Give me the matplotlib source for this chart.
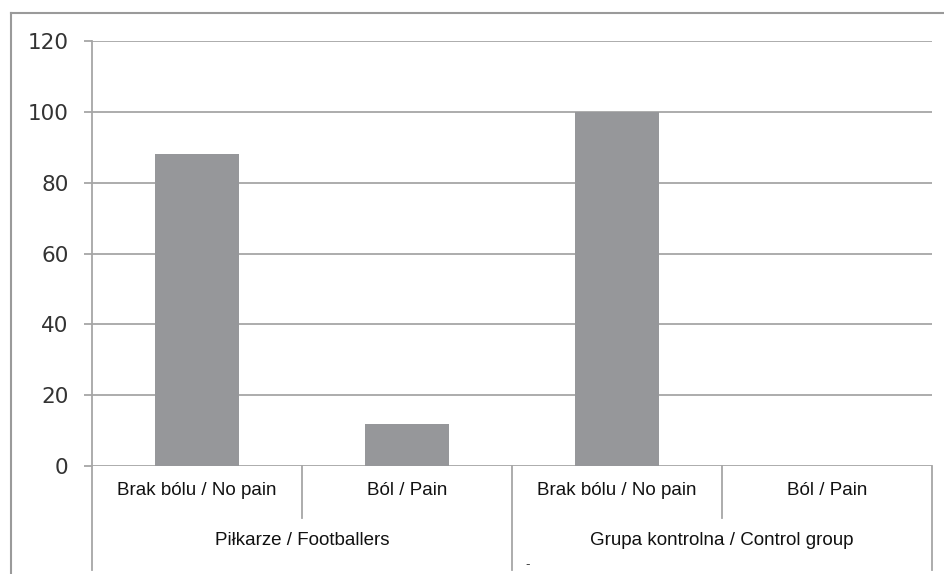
import matplotlib.pyplot as plt
from matplotlib.lines import Line2D

# dane
kategorie = ['Brak bólu / No pain', 'Ból / Pain', 'Brak bólu / No pain', 'Ból / Pain']
grupy = ['Piłkarze / Footballers', 'Grupa kontrolna / Control group']
wartosci = [88, 12, 100, 0]
y_ticks = [0, 20, 40, 60, 80, 100, 120]

W, H = 945, 574
fig = plt.figure(figsize=(W / 100, H / 100), dpi=100)
ax = fig.add_axes([92 / W, (H - 466) / H, 840 / W, 425 / H])

szary = '#a6a6a6'
ax.bar(range(len(wartosci)), wartosci, width=0.4, color='#96979a', zorder=3)
ax.set_xlim(-0.5, len(wartosci) - 0.5)
ax.set_ylim(0, 120)
ax.set_yticks(y_ticks)
ax.set_yticklabels([str(t) for t in y_ticks], family='DejaVu Sans', fontsize=15.5)
ax.yaxis.grid(True, color=szary, linewidth=1.3, zorder=0)
ax.tick_params(axis='y', length=6, width=1.3, color=szary, pad=11,
               labelcolor='#333333')
ax.tick_params(axis='x', length=0, labelbottom=False)
for s in ['top', 'right', 'bottom']:
    ax.spines[s].set_visible(False)
ax.spines['left'].set_color(szary)
ax.spines['left'].set_linewidth(1.3)

# osie kategorii (dwa poziomy)
tr = ax.get_xaxis_transform()
lw = 1.3
for x in [-0.5, 1.5, 3.5]:
    ax.add_line(Line2D([x, x], [0, -0.245], transform=tr, color=szary, lw=lw, clip_on=False))
for x in [0.5, 2.5]:
    ax.add_line(Line2D([x, x], [0, -0.122], transform=tr, color=szary, lw=lw, clip_on=False))

for i, k in enumerate(kategorie):
    ax.text(i, -0.057, k, transform=tr, ha='center', va='center',
            fontsize=13.5, family='Liberation Sans', color='#111111')
for j, g in enumerate(grupy):
    ax.text(2 * j + 0.5, -0.175, g, transform=tr, ha='center', va='center',
            fontsize=13.5, family='Liberation Sans', color='#111111')
ax.text(1.575, -0.233, '-', transform=tr, ha='center', va='center',
        fontsize=9, color='#444444')

# ramka wykresu
ramka = '#9a9a9a'
fig.add_artist(Line2D([11 / W, 11 / W], [0, 1 - 13 / H], color=ramka, lw=1.5))
fig.add_artist(Line2D([11 / W, 1], [1 - 13 / H, 1 - 13 / H], color=ramka, lw=1.5))

fig.savefig('out.png', dpi=100)
